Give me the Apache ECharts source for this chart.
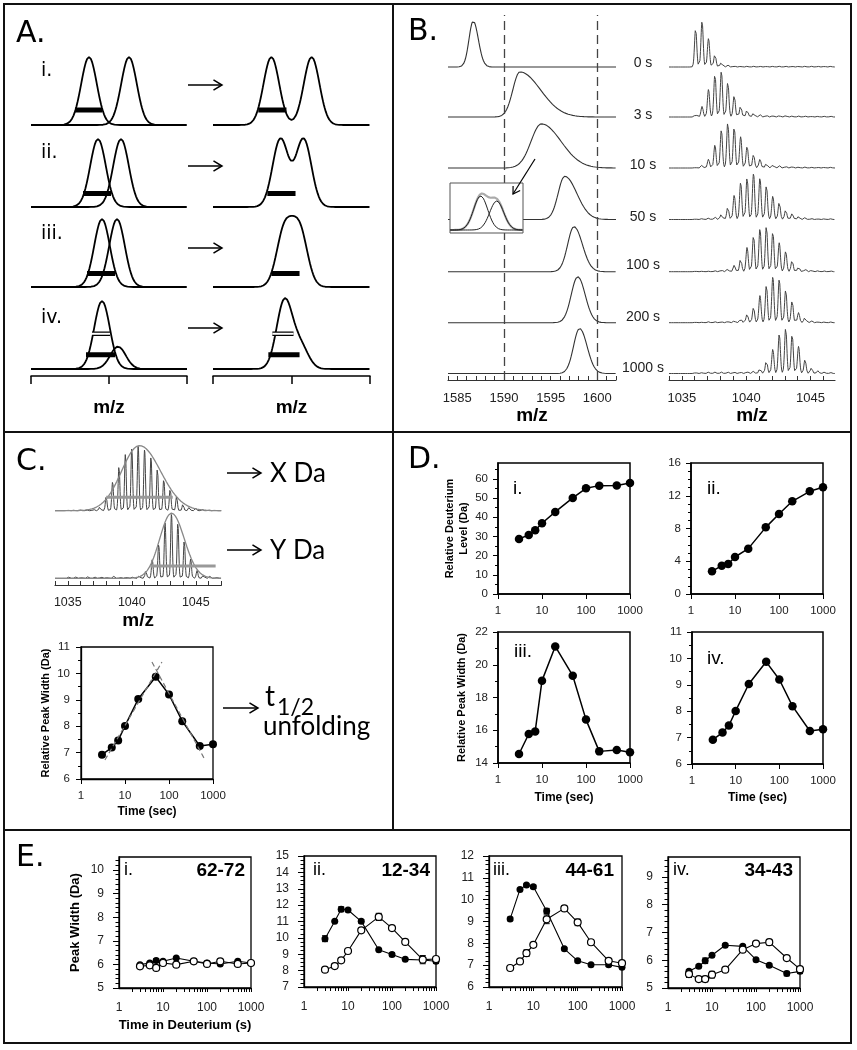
<!DOCTYPE html>
<html><head><meta charset="utf-8">
<script src="https://cdn.jsdelivr.net/npm/echarts@6/dist/echarts.min.js"></script>
<style>html,body{margin:0;padding:0;background:#fff}#c{width:857px;height:1050px}</style>
</head><body><div id="c"></div>
<script>
// ================= DATA =================
// Panel A: schematic peaks (arbitrary m/z units, 0-156 across each axis)
const aRowLabels = ['i.', 'ii.', 'iii.', 'iv.'];
const aPeakCenters = [[58, 98], [67, 90], [71, 86], [71, 87]];
const aPeakHeights = [[1, 1], [1, 1], [1, 1], [1, 0.33]];
const aPeakSigma = [7.8, 7.8, 7.8, 7.8];
const aObservedScale = [1, 1, 0.83, 1];
const aBarLevel = [0.22, 0.20, 0.20, 0.21];
const aBarLeft = [[44, 71], [52, 80], [56, 84], [55, 84]];
const aBarRight = [[45, 73], [54, 82], [58, 86], [55, 86]];
const aDoubleLevel = 0.52;
const aDoubleLeft = [61, 79];
const aDoubleRight = [59, 80];

// Panel B
const bTimeLabels = ['0 s', '3 s', '10 s', '50 s', '100 s', '200 s', '1000 s'];
const bEnvCenter = [1586.7, 1591.7, 1594.0, 1596.5, 1597.5, 1597.9, 1598.1];
const bEnvSigmaL = [0.45, 0.75, 1.1, 0.7, 0.68, 0.7, 0.65];
const bEnvSigmaR = [0.55, 2.2, 2.1, 1.3, 0.9, 0.8, 0.8];
const bEnvHeight = [100, 98, 96, 94, 98, 100, 98];
const bIsoStart = 1036.07, bIsoStep = 0.5;
const bIso0 = [84, 100, 62, 28, 11, 4, 2, 1.5, 1.5, 1.5, 1.5, 1.5, 1.5, 1.5, 1.5, 1.5, 1.5, 1.5, 1.5, 1.5, 1.5, 1.5];
const bIso3 = [6, 23, 60, 94, 100, 76, 47, 25, 16, 9, 5, 4, 3, 3, 3, 2, 2, 2, 1.5, 1.5, 1.5, 1.5];
const bIso10 = [1, 6, 19, 50, 83, 100, 90, 68, 47, 29, 19, 11, 7, 5, 4, 3, 2, 2, 1.5, 1.5, 1.5, 1.5];
const bIso50 = [1, 2, 3, 5, 12, 27, 53, 81, 92, 100, 91, 74, 51, 38, 21, 13, 7, 4, 2, 1.5, 1.5, 1.5];
const bIso100 = [1, 1, 1, 2, 4, 6, 14, 29, 53, 79, 94, 100, 88, 63, 45, 25, 12, 6, 3, 2, 1.5, 1.5];
const bIso200 = [1, 1, 2, 2, 2, 3, 4, 9, 19, 33, 59, 82, 100, 95, 72, 48, 22, 12, 4, 2, 1.5, 1.5];
const bIso1000 = [2, 2, 3, 3, 3, 3, 3, 3, 4, 5, 12, 29, 53, 86, 100, 86, 59, 30, 12, 6, 3, 2];
const bInsetCenters = [42, 64];
const bInsetSigma = [9.6, 9.6];
const bInsetHeights = [0.68, 0.58];
const bDashedMz = [1590, 1600];

// Panel C
const cSticks1Start = 1035.0;
const cSticks1 = [1, 1, 1, 1, 3, 6, 22, 45, 70, 88, 98, 100, 95, 84, 66, 50, 35, 22, 11, 6, 4, 2, 1, 1];
const cEnv1 = [1040.6, 1.4, 1.65, 101];       // centre, width left, width right, height
const cWidthLine1 = [1038.0, 1043.2, 21];     // from, to, level
const cSticks2Start = 1035.1;
const cSticks2 = [2, 2, 2, 3, 2, 3, 2, 3, 2, 3, 3, 5, 12, 29, 53, 86, 100, 86, 59, 30, 12, 6, 3, 2];
const cEnv2 = [1043.1, 0.92, 1.0, 101];
const cWidthLine2 = [1041.45, 1046.55, 19];
const cTime = [3, 5, 7, 10, 20, 50, 100, 200, 500, 1000];
const cWidth = [6.92, 7.19, 7.46, 8.01, 9.03, 9.87, 9.2, 8.19, 7.25, 7.32];
const cFitRise = [[3.5, 6.72], [69, 10.43]];
const cFitFall = [[41, 10.43], [660, 6.72]];

// Panel D
const dTime = [3, 5, 7, 10, 20, 50, 100, 200, 500, 1000];
const dLevelI = [28.7, 30.8, 33.2, 36.9, 42.8, 50.1, 55.1, 56.5, 56.6, 57.9];
const dLevelII = [2.77, 3.46, 3.66, 4.52, 5.54, 8.14, 9.77, 11.32, 12.54, 13.03];
const dWidthIII = [14.55, 15.77, 15.93, 19.03, 21.12, 19.33, 16.65, 14.71, 14.79, 14.65];
const dWidthIV = [6.92, 7.19, 7.46, 8.01, 9.03, 9.87, 9.2, 8.19, 7.25, 7.32];

// Panel E
const eTime = [3, 5, 7, 10, 20, 50, 100, 200, 500, 1000];
const ePeptides = ['62-72', '12-34', '44-61', '34-43'];
const eFilledI = [5.99, 6.06, 6.16, 6.13, 6.27, 6.13, 6.06, 6.02, 6.13, 6.06];
const eOpenI = [5.92, 5.96, 5.85, 6.06, 5.99, 6.13, 6.02, 6.13, 6.02, 6.06];
const eFilledII = [9.95, 11.01, 11.75, 11.7, 11.01, 9.28, 8.98, 8.69, 8.65, 8.57];
const eOpenII = [8.06, 8.28, 8.63, 9.2, 10.46, 11.28, 10.6, 9.75, 8.67, 8.71];
const eFilledIII = [9.12, 10.47, 10.67, 10.59, 9.48, 7.75, 7.2, 7.02, 7.02, 6.9];
const eOpenIII = [6.87, 7.17, 7.55, 7.93, 9.1, 9.6, 8.96, 8.05, 7.2, 7.09];
const eFilledIV = [5.6, 5.78, 5.98, 6.18, 6.54, 6.5, 6.02, 5.82, 5.52, 5.6];
const eOpenIV = [5.5, 5.32, 5.32, 5.48, 5.66, 6.38, 6.6, 6.65, 6.08, 5.68];
const eErrFilledI = [0.03, 0.03, 0.08, 0.05, 0.03, 0.03, 0.03, 0.06, 0.03, 0.03];
const eErrOpenI = [0.03, 0.05, 0.05, 0.1, 0.03, 0.03, 0.05, 0.05, 0.03, 0.03];
const eErrFilledII = [0.18, 0.05, 0.15, 0.05, 0.1, 0.05, 0.12, 0.05, 0.05, 0.12];
const eErrOpenII = [0.05, 0.15, 0.05, 0.05, 0.05, 0.22, 0.05, 0.05, 0.25, 0.1];
const eErrFilledIII = [0.08, 0.05, 0.05, 0.08, 0.12, 0.05, 0.05, 0.05, 0.08, 0.05];
const eErrOpenIII = [0.05, 0.05, 0.15, 0.05, 0.2, 0.1, 0.15, 0.1, 0.05, 0.05];
const eErrFilledIV = [0.05, 0.05, 0.1, 0.05, 0.05, 0.05, 0.05, 0.05, 0.08, 0.08];
const eErrOpenIV = [0.12, 0.05, 0.1, 0.12, 0.05, 0.05, 0.05, 0.1, 0.05, 0.05];

// ================= BUILD =================
const grids = [], xAxes = [], yAxes = [], series = [], graphics = [];
const FONT = 'Liberation Sans, Arial, sans-serif';

function range(a, b, s) { const r = []; const n = Math.round((b - a) / s); for (let i = 0; i <= n; i++) r.push(+(a + i * s).toFixed(5)); return r; }
function bigauss(x, c, sl, sr, h) { const s = x < c ? sl : sr; return h * Math.exp(-((x - c) * (x - c)) / (2 * s * s)); }
function sticks(x, start, step, hs, sig) { let y = 0; for (let k = 0; k < hs.length; k++) { const d = x - (start + step * k); if (Math.abs(d) < 6 * sig) y += hs[k] * Math.exp(-d * d / (2 * sig * sig)); } return y; }

const hiddenVal = (min, max) => ({ type: 'value', show: false, min, max, splitLine: { show: false }, axisLine: { onZero: false } });
function addGrid(g, xa, ya) {
  const gi = grids.length;
  grids.push(Object.assign({ show: false, outerBoundsMode: 'none', containLabel: false }, g));
  const xi = xAxes.length; xAxes.push(Object.assign({ gridIndex: gi }, xa));
  const yi = yAxes.length; yAxes.push(Object.assign({ gridIndex: gi }, ya));
  return { gi, xi, yi };
}
function lineS(ax, data, color, width, extra) {
  series.push(Object.assign({ type: 'line', xAxisIndex: ax.xi, yAxisIndex: ax.yi, data, symbol: 'none', showSymbol: false,
    silent: true, animation: false, lineStyle: { color, width }, itemStyle: { color }, z: 2, clip: false }, extra || {}));
}
function txt(x, y, text, font, opts) {
  graphics.push({ type: 'text', z: 100, silent: true, style: Object.assign({ x, y, text, font, fill: '#000',
    textAlign: 'left', align: 'left', textVerticalAlign: 'middle', verticalAlign: 'middle' }, opts || {}) });
}
function seg(x1, y1, x2, y2, lw, color, z) {
  graphics.push({ type: 'line', z: z || 100, silent: true, shape: { x1, y1, x2, y2 }, style: { stroke: color || '#000', lineWidth: lw } });
}
function arrow(x1, y1, x2, y2, head, lw) {
  const ang = Math.atan2(y2 - y1, x2 - x1), a = 0.55;
  seg(x1, y1, x2, y2, lw);
  graphics.push({ type: 'polyline', z: 100, silent: true, shape: { points: [[x2 - head * Math.cos(ang - a), y2 - head * Math.sin(ang - a)], [x2, y2], [x2 - head * Math.cos(ang + a), y2 - head * Math.sin(ang + a)]] },
    style: { stroke: '#000', lineWidth: lw, fill: null } });
}
function tickList(a, b, s) { return range(a, b, s); }
const plainNum = v => String(+(+v).toFixed(4));

// ---------- Panel borders ----------
graphics.push({ type: 'rect', z: 90, silent: true, shape: { x: 4, y: 4, width: 847, height: 1039 }, style: { fill: null, stroke: '#111', lineWidth: 2 } });
seg(393, 4, 393, 830, 2, '#111', 90);
seg(4, 432, 851, 432, 2, '#111', 90);
seg(4, 830, 851, 830, 2, '#111', 90);

// panel letters
const LET = '30px DejaVu Sans, sans-serif';
txt(16, 34, 'A.', LET); txt(408, 32, 'B.', LET); txt(16, 462, 'C.', LET); txt(408, 460, 'D.', LET); txt(16, 858, 'E.', LET);

// ---------- Panel A ----------
const aBase = [125, 207, 287, 369], aPx = 68, aYmax = 1.15;
const aLabelY = [71, 153, 234, 318], aArrowY = [85, 166, 248, 328];
const xsA = range(0, 156, 0.5);
aRowLabels.forEach((lab, r) => {
  const top = aBase[r] - aPx * aYmax, h = aPx * aYmax;
  const bracket = (r === 3) ? {
    type: 'value', min: 0, max: 156, interval: 78, offset: 7, position: 'bottom',
    axisLine: { show: true, onZero: false, lineStyle: { color: '#000', width: 1.5 } },
    axisTick: { show: true, length: 8, lineStyle: { color: '#000', width: 1.5 } },
    axisLabel: { show: false }, splitLine: { show: false },
    name: 'm/z', nameLocation: 'middle', nameGap: 22,
    nameTextStyle: { fontSize: 19, fontWeight: 'bold', color: '#000', fontFamily: FONT }
  } : null;
  const L = addGrid({ left: 31, top, width: 156, height: h }, bracket || hiddenVal(0, 156), hiddenVal(0, aYmax));
  aPeakCenters[r].forEach((c, k) => {
    lineS(L, xsA.map(x => [x, bigauss(x, c, aPeakSigma[r], aPeakSigma[r], aPeakHeights[r][k])]), '#000', 1.8);
  });
  lineS(L, aBarLeft[r].map(x => [x, aBarLevel[r]]), '#000', 5, { z: 3 });
  const R = addGrid({ left: 213, top, width: 157, height: h }, bracket ? Object.assign({}, bracket) : hiddenVal(0, 156), hiddenVal(0, aYmax));
  lineS(R, xsA.map(x => [x, aObservedScale[r] * aPeakCenters[r].reduce((s, c, k) => s + bigauss(x, c, aPeakSigma[r], aPeakSigma[r], aPeakHeights[r][k]), 0)]), '#000', 1.8);
  lineS(R, aBarRight[r].map(x => [x, aBarLevel[r]]), '#000', 5, { z: 3 });
  if (r === 3) {
    lineS(L, aDoubleLeft.map(x => [x, aDoubleLevel]), '#000', 4.5, { z: 3 });
    lineS(L, aDoubleLeft.map(x => [x, aDoubleLevel]), '#fff', 2, { z: 4 });
    lineS(R, aDoubleRight.map(x => [x, aDoubleLevel]), '#000', 4.5, { z: 3 });
    lineS(R, aDoubleRight.map(x => [x, aDoubleLevel]), '#fff', 2, { z: 4 });
  }
  txt(41, aLabelY[r], lab, '19px DejaVu Sans, sans-serif');
  arrow(188, aArrowY[r], 222, aArrowY[r], 10, 1.5);
});

// ---------- Panel B ----------
const bBaseVal = [313, 263, 212, 160.5, 108.3, 57.3, 6.5], bPx = 0.46;
function mzAxis(min, max, ticks, labels, gap) {
  return {
    type: 'value', min, max, position: 'bottom',
    axisLine: { show: true, onZero: false, lineStyle: { color: '#333', width: 1.2 } },
    axisTick: { show: true, inside: true, length: 4, customValues: ticks, lineStyle: { color: '#333', width: 1 } },
    axisLabel: { show: true, customValues: labels, formatter: plainNum, fontSize: 13, color: '#222', margin: 12, fontFamily: FONT },
    splitLine: { show: false },
    name: 'm/z', nameLocation: 'middle', nameGap: gap,
    nameTextStyle: { fontSize: 19, fontWeight: 'bold', color: '#000', fontFamily: FONT }
  };
}
const BL = addGrid({ left: 448, top: 15, width: 168, height: 365 },
  mzAxis(1584, 1602, tickList(1584, 1602, 1), [1585, 1590, 1595, 1600], 23), hiddenVal(0, 365));
const xsBL = range(1584, 1602, 0.04);
bTimeLabels.forEach((t, i) => {
  const extra = i === 0 ? { markLine: { silent: true, symbol: 'none', label: { show: false },
    lineStyle: { color: '#444', type: [9, 5], width: 1.3 }, data: bDashedMz.map(v => ({ xAxis: v })) } } : {};
  lineS(BL, xsBL.map(x => [x, bBaseVal[i] + bPx * bigauss(x, bEnvCenter[i], bEnvSigmaL[i], bEnvSigmaR[i], bEnvHeight[i])]), '#333', 1.1, extra);
});
const BR = addGrid({ left: 669, top: 15, width: 166, height: 365 },
  mzAxis(1034, 1046.9, tickList(1034, 1046, 1), [1035, 1040, 1045], 23), hiddenVal(0, 365));
const xsBR = range(1034, 1046.9, 0.015);
[bIso0, bIso3, bIso10, bIso50, bIso100, bIso200, bIso1000].forEach((hs, i) => {
  lineS(BR, xsBR.map(x => [x, bBaseVal[i] + bPx * sticks(x, bIsoStart, bIsoStep, hs, 0.085)]), '#444', 1);
});
bTimeLabels.forEach((t, i) => txt(643, [63, 115, 165, 217, 265, 317, 368][i], t, '14px ' + FONT, { textAlign: 'center', align: 'center', fill: '#222' }));
// inset
graphics.push({ type: 'rect', z: 50, silent: true, shape: { x: 450, y: 183, width: 73, height: 50 }, style: { fill: '#fff', stroke: '#555', lineWidth: 1 } });
const BI = addGrid({ left: 450, top: 183, width: 73, height: 50 }, hiddenVal(0, 100), hiddenVal(0, 1));
const xsI = range(0, 100, 0.5);
lineS(BI, xsI.map(x => [x, 0.06 + bInsetCenters.reduce((s, c, k) => s + bigauss(x, c, bInsetSigma[k], bInsetSigma[k], bInsetHeights[k]), 0)]), '#aaa', 2.2, { z: 60 });
bInsetCenters.forEach((c, k) => lineS(BI, xsI.map(x => [x, 0.06 + bigauss(x, c, bInsetSigma[k], bInsetSigma[k], bInsetHeights[k])]), '#222', 1, { z: 61 }));
arrow(535, 159, 513, 194, 8, 1.2);

// ---------- Panel C ----------
const CT = addGrid({ left: 55, top: 440, width: 166.4, height: 145 },
  mzAxis(1034, 1047, tickList(1034, 1047, 1), [1035, 1040, 1045], 26), hiddenVal(0, 145));
xAxes[CT.xi].axisLabel.fontSize = 12.5; xAxes[CT.xi].axisLabel.margin = 11;
const cBase = [74.3, 6.7], cPx = 0.645;
const xsC = range(1034, 1047, 0.015);
lineS(CT, xsC.map(x => [x, cBase[0] + cPx * sticks(x, cSticks1Start, 0.5, cSticks1, 0.065)]), '#444', 1);
lineS(CT, xsC.map(x => [x, cBase[0] + cPx * bigauss(x, cEnv1[0], cEnv1[1], cEnv1[2], cEnv1[3])]), '#888', 1.3, { z: 3 });
lineS(CT, [[cWidthLine1[0], cBase[0] + cPx * cWidthLine1[2]], [cWidthLine1[1], cBase[0] + cPx * cWidthLine1[2]]], '#999', 3, { z: 4 });
lineS(CT, xsC.map(x => [x, cBase[1] + cPx * sticks(x, cSticks2Start, 0.5, cSticks2, 0.065)]), '#444', 1);
lineS(CT, xsC.map(x => [x, cBase[1] + cPx * bigauss(x, cEnv2[0], cEnv2[1], cEnv2[2], cEnv2[3])]), '#888', 1.3, { z: 3 });
lineS(CT, [[cWidthLine2[0], cBase[1] + cPx * cWidthLine2[2]], [cWidthLine2[1], cBase[1] + cPx * cWidthLine2[2]]], '#999', 3, { z: 4 });
const CAL = '26px Lato, Open Sans, sans-serif';
arrow(227, 473, 261, 473, 10, 1.5); txt(270, 474, 'X Da', CAL);
arrow(227, 550, 261, 550, 10, 1.5); txt(270, 551, 'Y Da', CAL);
arrow(223, 708, 258, 708, 10, 1.5);
txt(265, 697, 't', '28px Lato, Open Sans, sans-serif');
txt(277, 708, '1/2', '23px Lato, Open Sans, sans-serif');
txt(263, 727, 'unfolding', CAL);

// ---------- Box plots (C bottom, D, E) ----------
function plotBox(o) {
  const gi = grids.length;
  grids.push({ left: o.left, top: o.top, width: o.width, height: o.height, show: true, borderColor: '#000', borderWidth: o.lw, backgroundColor: 'transparent', outerBoundsMode: 'none', containLabel: false });
  const xi = xAxes.length;
  xAxes.push({ gridIndex: gi, type: 'log', logBase: 10, min: 1, max: 1000, position: 'bottom',
    axisLine: { show: true, onZero: false, lineStyle: { color: '#000', width: o.lw } },
    axisTick: { show: true, length: o.xTickLen, customValues: o.xTicks, lineStyle: { color: '#000', width: 1 } },
    axisLabel: { show: true, customValues: [1, 10, 100, 1000], formatter: v => String(Math.round(v)), fontSize: o.labelSize, color: '#222', margin: o.xLabelMargin, fontFamily: FONT },
    splitLine: { show: false }, minorTick: { show: false },
    name: o.xName || '', nameLocation: 'middle', nameGap: o.xNameGap || 0,
    nameTextStyle: { fontSize: o.xNameSize || 12, fontWeight: 'bold', color: '#000', fontFamily: FONT } });
  const yi = yAxes.length;
  yAxes.push({ gridIndex: gi, type: 'value', min: o.yMin, max: o.yMax, position: 'left',
    axisLine: { show: true, onZero: false, lineStyle: { color: '#000', width: o.lw } },
    axisTick: { show: true, length: o.majorLen, customValues: o.yMajor, lineStyle: { color: '#000', width: 1 } },
    axisLabel: { show: true, customValues: o.yMajor, formatter: plainNum, fontSize: o.labelSize, color: '#222', margin: o.yLabelMargin, fontFamily: FONT },
    splitLine: { show: false }, minorTick: { show: false },
    name: o.yName || '', nameLocation: 'middle', nameGap: o.yNameGap || 0,
    nameTextStyle: { fontSize: o.yNameSize || 11, fontWeight: 'bold', color: '#000', lineHeight: 14, fontFamily: FONT } });
  yAxes.push({ gridIndex: gi, type: 'value', min: o.yMin, max: o.yMax, position: 'left',
    axisLine: { show: false, onZero: false }, axisTick: { show: true, length: o.minorLen, customValues: o.yMinor, lineStyle: { color: '#000', width: 1 } },
    axisLabel: { show: false }, splitLine: { show: false } });
  return { gi, xi, yi };
}
function pts(ax, xs, ys, filled, size, lw) {
  series.push({ type: 'line', xAxisIndex: ax.xi, yAxisIndex: ax.yi, data: xs.map((x, i) => [x, ys[i]]),
    symbol: 'circle', symbolSize: size, showSymbol: true, silent: true, animation: false, z: 4,
    lineStyle: { color: '#000', width: lw },
    itemStyle: filled ? { color: '#000', borderColor: '#000', borderWidth: 0, opacity: 1 } : { color: '#fff', borderColor: '#000', borderWidth: 1.2, opacity: 1 } });
}
function errs(ax, xs, ys, es) {
  const data = xs.map((x, i) => [x, ys[i] - es[i], ys[i] + es[i]]);
  series.push({ type: 'custom', xAxisIndex: ax.xi, yAxisIndex: ax.yi, data, silent: true, animation: false, z: 3,
    encode: { x: 0, y: [1, 2] },
    renderItem: (p, api) => {
      const a = api.coord([api.value(0), api.value(1)]), b = api.coord([api.value(0), api.value(2)]), w = 3;
      const st = { stroke: '#000', lineWidth: 1 };
      return { type: 'group', children: [
        { type: 'line', shape: { x1: a[0], y1: a[1], x2: b[0], y2: b[1] }, style: st },
        { type: 'line', shape: { x1: a[0] - w, y1: a[1], x2: a[0] + w, y2: a[1] }, style: st },
        { type: 'line', shape: { x1: b[0] - w, y1: b[1], x2: b[0] + w, y2: b[1] }, style: st }] };
    } });
}
const decTicks = [1, 10, 100, 1000];
const logMinor = [];
[1, 10, 100].forEach(d => { for (let m = 2; m <= 10; m++) logMinor.push(m * d); });

// C bottom
const CB = plotBox({ left: 81, top: 647, width: 132, height: 132, lw: 1.3, yMin: 6, yMax: 11,
  yMajor: tickList(6, 11, 1), yMinor: tickList(6.5, 10.5, 1), majorLen: 5, minorLen: 3, xTicks: decTicks, xTickLen: 5,
  labelSize: 11.5, xLabelMargin: 11, yLabelMargin: 11, yName: 'Relative Peak Width (Da)', yNameGap: 28, xName: 'Time (sec)', xNameGap: 27 });
pts(CB, cTime, cWidth, true, 8, 1.5);
lineS(CB, cFitRise, '#777', 1.2, { lineStyle: { color: '#777', width: 1.2, type: [5, 3] }, z: 5 });
lineS(CB, cFitFall, '#777', 1.2, { lineStyle: { color: '#777', width: 1.2, type: [5, 3] }, z: 5 });

// D
const dCommon = { lw: 1.5, majorLen: 5, minorLen: 3, xTicks: decTicks, xTickLen: 5, labelSize: 11.5, xLabelMargin: 11, yLabelMargin: 10 };
const D1 = plotBox(Object.assign({ left: 498, top: 463, width: 132, height: 131, yMin: 0, yMax: 68.3,
  yMajor: tickList(0, 60, 10), yMinor: tickList(5, 65, 10), yName: 'Relative Deuterium\nLevel (Da)', yNameGap: 27 }, dCommon));
const D2 = plotBox(Object.assign({ left: 691, top: 463, width: 132, height: 131, yMin: 0, yMax: 16,
  yMajor: tickList(0, 16, 4), yMinor: tickList(1, 15, 1) }, dCommon));
const D3 = plotBox(Object.assign({ left: 498, top: 632, width: 132, height: 131, yMin: 14, yMax: 22,
  yMajor: tickList(14, 22, 2), yMinor: tickList(15, 21, 2), yName: 'Relative Peak Width (Da)', yNameGap: 29, xName: 'Time (sec)', xNameGap: 29 }, dCommon));
const D4 = plotBox(Object.assign({ left: 692, top: 632, width: 131, height: 132, yMin: 6, yMax: 11,
  yMajor: tickList(6, 11, 1), yMinor: tickList(6.5, 10.5, 1), xName: 'Time (sec)', xNameGap: 28 }, dCommon));
pts(D1, dTime, dLevelI, true, 8.5, 1.5);
pts(D2, dTime, dLevelII, true, 8.5, 1.5);
pts(D3, dTime, dWidthIII, true, 8.5, 1.5);
pts(D4, dTime, dWidthIV, true, 8.5, 1.5);
const DLF = '19px ' + FONT;
txt(513, 489, 'i.', DLF); txt(707, 489, 'ii.', DLF); txt(514, 652, 'iii.', DLF); txt(707, 659, 'iv.', DLF);

// E
const eCommon = { lw: 1.3, majorLen: 6, minorLen: 3.5, xTicks: logMinor, xTickLen: 4, labelSize: 12, xLabelMargin: 14, yLabelMargin: 15 };
const E1 = plotBox(Object.assign({ left: 119, top: 857, width: 132, height: 131, yMin: 5, yMax: 10.55,
  yMajor: tickList(5, 10, 1), yMinor: tickList(5.2, 10.4, 0.2), yName: 'Peak Width (Da)', yNameGap: 37, yNameSize: 13,
  xName: 'Time in Deuterium (s)', xNameGap: 31, xNameSize: 13 }, eCommon));
const E2 = plotBox(Object.assign({ left: 304, top: 856, width: 132, height: 131, yMin: 7, yMax: 15,
  yMajor: tickList(7, 15, 1), yMinor: tickList(7.25, 14.75, 0.25) }, eCommon));
const E3 = plotBox(Object.assign({ left: 489, top: 856, width: 133, height: 131, yMin: 6, yMax: 12,
  yMajor: tickList(6, 12, 1), yMinor: tickList(6.2, 11.8, 0.2) }, eCommon));
const E4 = plotBox(Object.assign({ left: 668, top: 857, width: 132, height: 131, yMin: 5, yMax: 9.72,
  yMajor: tickList(5, 9, 1), yMinor: tickList(5.2, 9.6, 0.2) }, eCommon));
[[E1, eFilledI, eOpenI, eErrFilledI, eErrOpenI], [E2, eFilledII, eOpenII, eErrFilledII, eErrOpenII],
 [E3, eFilledIII, eOpenIII, eErrFilledIII, eErrOpenIII], [E4, eFilledIV, eOpenIV, eErrFilledIV, eErrOpenIV]].forEach(([ax, f, op, ef, eo]) => {
  errs(ax, eTime, f, ef); errs(ax, eTime, op, eo);
  pts(ax, eTime, f, true, 7, 1.1);
  pts(ax, eTime, op, false, 7, 1.1);
});
const ELF = '18px ' + FONT, EPF = 'bold 19px ' + FONT;
[[124, 245], [313, 430], [493, 614], [673, 793]].forEach(([lx, rx], i) => {
  txt(lx, 870, ['i.', 'ii.', 'iii.', 'iv.'][i], ELF);
  txt(rx, 871, ePeptides[i], EPF, { textAlign: 'right', align: 'right' });
});

// ================= RENDER =================
const chart = echarts.init(document.getElementById('c'), null, { renderer: 'canvas', width: 857, height: 1050 });
chart.setOption({
  backgroundColor: '#fff', animation: false,
  textStyle: { fontFamily: FONT },
  grid: grids, xAxis: xAxes, yAxis: yAxes, series, graphic: { elements: graphics }
});
</script></body></html>
